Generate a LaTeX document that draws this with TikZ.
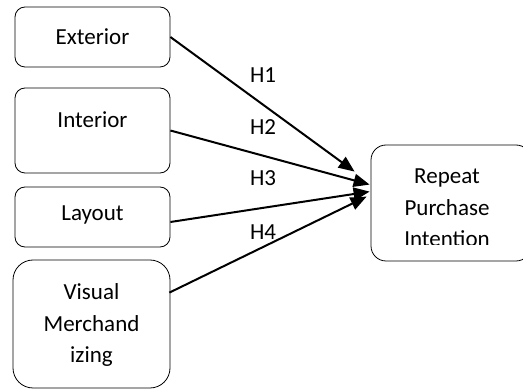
\documentclass[tikz,border=0pt]{standalone}
\usepackage{fontspec}
\setmainfont{Carlito}
\usetikzlibrary{arrows.meta,calc}
\begin{document}
\begin{tikzpicture}[x=1pt,y=-1pt,
  box/.style={draw,line width=0.8pt,rounded corners=#1,inner sep=0pt},
  box/.default=10pt,
  txt/.style={font=\fontsize{23}{31.7}\selectfont,align=center,inner sep=0pt},
  hlab/.style={font=\fontsize{23}{26}\selectfont,inner sep=0pt},
  conn/.style={line width=2pt,-{Triangle[length=16pt,width=13pt]}}]
\useasboundingbox (0,0) rectangle (523,390);
\node[box,minimum width=155pt,minimum height=60pt] (exterior) at (92.5,37) {};
\node[txt] (extxt) at (exterior.center) {Exterior};
\node[box,minimum width=155pt,minimum height=85pt] (interior) at (92.5,130.5) {};
\node[txt] (intxt) at (92.5,120) {Interior};
\node[box,minimum width=155pt,minimum height=60pt] (layout) at (92.5,217) {};
\node[txt] (laytxt) at (92.5,215) {Layout};
\node[box=20pt,minimum width=157pt,minimum height=128pt] (visual) at (91.5,324) {};
\node[txt] (vistxt) at (91.5,325) {Visual\\Merchand\\izing};
\node[box=15pt,minimum width=160pt,minimum height=116pt] (repeat) at (451,203) {};
\begin{scope}
\clip (371,145) rectangle (523,244.5);
\node[txt] (reptxt) at (447,208) {Repeat\\Purchase\\Intention};
\end{scope}
\coordinate (t1) at ($(repeat.north west)+(-16,27)$);
\coordinate (t2) at ($(repeat.north west)+(-1,40)$);
\coordinate (t3) at ($(repeat.north west)+(-1,47)$);
\coordinate (t4) at ($(repeat.north west)+(-4,52)$);
\draw[conn] (exterior.east) -- (t1);
\draw[conn] (interior.east) -- (t2);
\draw[conn] ($(layout.east)+(0,5)$) -- (t3);
\draw[conn] ($(visual.north east)+(-1,33)$) -- (t4);
\node[hlab] (h1) at (263,75) {H1};
\node[hlab] (h2) at (263,127) {H2};
\node[hlab] (h3) at (263,178) {H3};
\node[hlab] (h4) at (263,232) {H4};
\end{tikzpicture}
\end{document}
